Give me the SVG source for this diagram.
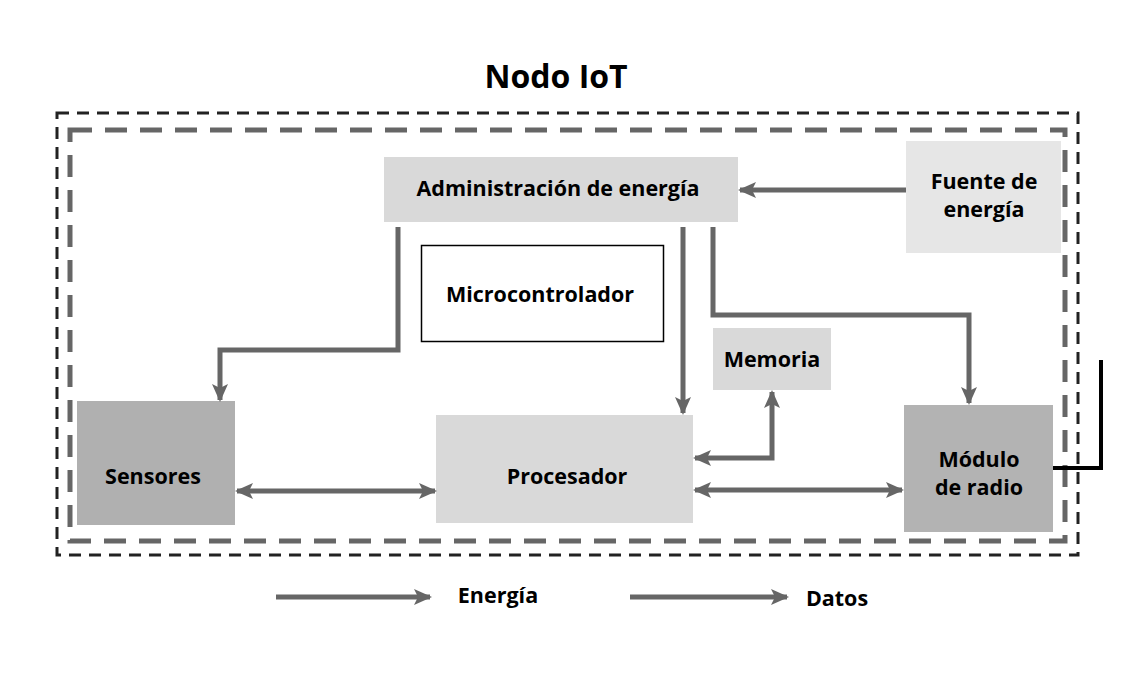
<svg xmlns="http://www.w3.org/2000/svg" width="1142" height="677" viewBox="0 0 1142 677">
<style>
text{font-family:"Open Sans","Noto Sans","Liberation Sans",sans-serif;font-weight:bold;fill:#000;text-anchor:middle}
.lbl{font-size:21.5px}
.conn{fill:none;stroke:#666;stroke-width:5}
</style>
<defs>
<marker id="ah" markerUnits="userSpaceOnUse" markerWidth="18" markerHeight="16" refX="16" refY="8" orient="auto-start-reverse">
<path d="M0,0 L18,8 L0,16 L4,8 Z" fill="#666"/>
</marker>
</defs>
<rect width="1142" height="677" fill="#fff"/>
<text x="556" y="88" style="font-size:32px">Nodo IoT</text>
<rect x="57" y="113" width="1021" height="442" fill="none" stroke="#222" stroke-width="3" stroke-dasharray="12 8"/>
<rect x="70" y="130" width="995" height="411" fill="none" stroke="#666" stroke-width="5" stroke-dasharray="22 13"/>
<g id="admin"><rect x="384" y="157" width="354" height="65" fill="#d9d9d9"/><text class="lbl" x="558" y="196">Administración de energía</text></g>
<g id="fuente"><rect x="906" y="141" width="155" height="112" fill="#e6e6e6"/><text class="lbl" x="984" y="189">Fuente de</text><text class="lbl" x="984" y="217">energía</text></g>
<g id="micro"><rect x="421.5" y="245.5" width="242" height="96" fill="#fff" stroke="#000" stroke-width="1.5"/><text class="lbl" x="540" y="302">Microcontrolador</text></g>
<g id="memoria"><rect x="713" y="328" width="118" height="62" fill="#d9d9d9"/><text class="lbl" x="772" y="367">Memoria</text></g>
<g id="sensores"><rect x="77" y="401" width="158" height="124" fill="#b0b0b0"/><text class="lbl" x="153" y="484">Sensores</text></g>
<g id="procesador"><rect x="436" y="415" width="257" height="108" fill="#d9d9d9"/><text class="lbl" x="567" y="484">Procesador</text></g>
<g id="radio"><rect x="904" y="405" width="149" height="127" fill="#b3b3b3"/><text class="lbl" x="979" y="467">Módulo</text><text class="lbl" x="979" y="495">de radio</text></g>
<g id="connectors">
<path class="conn" d="M906,190 H740" marker-end="url(#ah)"/>
<path class="conn" d="M398,227 V350 H220 V400" marker-end="url(#ah)"/>
<path class="conn" d="M683,227 V413" marker-end="url(#ah)"/>
<path class="conn" d="M713,227 V315 H969 V403" marker-end="url(#ah)"/>
<path class="conn" d="M695,458 H772 V392" marker-start="url(#ah)" marker-end="url(#ah)"/>
<path class="conn" d="M237,491 H435" marker-start="url(#ah)" marker-end="url(#ah)"/>
<path class="conn" d="M695,490 H902" marker-start="url(#ah)" marker-end="url(#ah)"/>
<path d="M1053,468 H1101 V360" fill="none" stroke="#000" stroke-width="4"/>
</g>
<g id="legend">
<path class="conn" d="M276,597 H430" marker-end="url(#ah)"/>
<text class="lbl" x="498" y="603">Energía</text>
<path class="conn" d="M630,597 H787" marker-end="url(#ah)"/>
<text class="lbl" x="837" y="606">Datos</text>
</g>
</svg>
